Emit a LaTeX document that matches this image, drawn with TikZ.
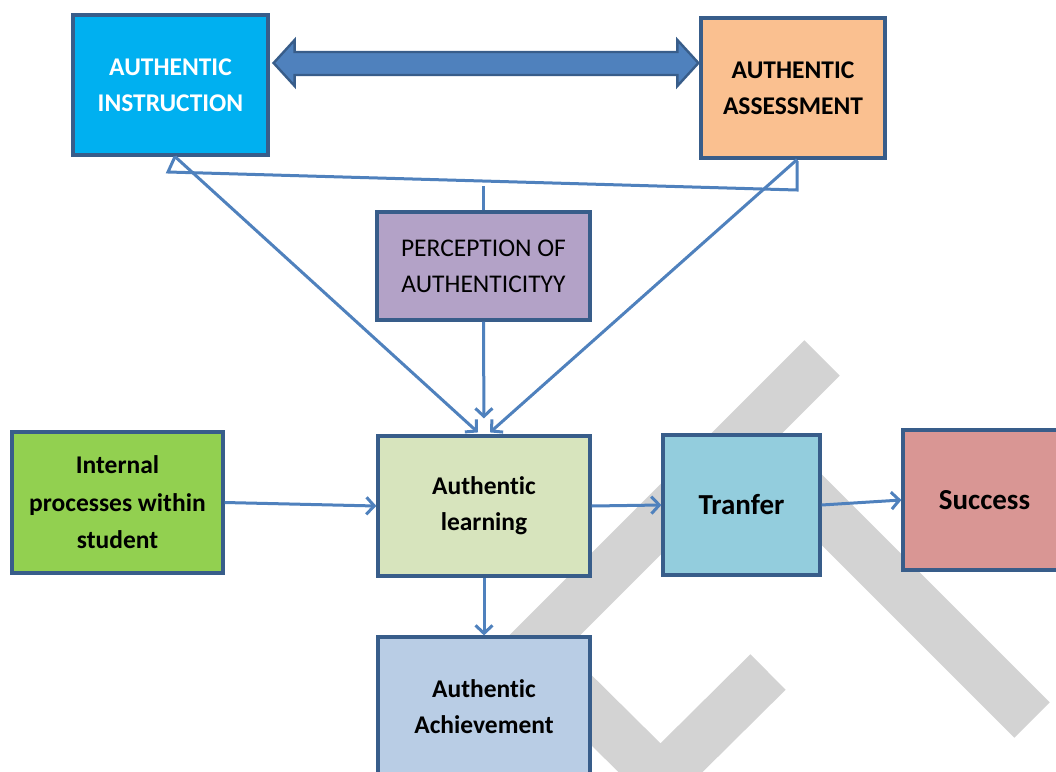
\documentclass[tikz,border=0pt]{standalone}
\usepackage{fontspec}
\setmainfont{Carlito}[Ligatures=NoCommon]
\usetikzlibrary{arrows.meta,calc}

\definecolor{edge}{HTML}{385D8A}
\definecolor{linkblue}{HTML}{4F81BD}
\definecolor{instr}{HTML}{00B0F0}
\definecolor{assess}{HTML}{FAC090}
\definecolor{percep}{HTML}{B3A2C7}
\definecolor{internal}{HTML}{92D050}
\definecolor{learn}{HTML}{D7E4BD}
\definecolor{transfer}{HTML}{93CDDD}
\definecolor{successc}{HTML}{D99694}
\definecolor{achieve}{HTML}{B9CDE5}
\definecolor{wmgray}{HTML}{D3D3D3}

\begin{document}
\begin{tikzpicture}[x=1pt,y=-1pt,
  box/.style={draw=edge, line width=3.2pt, inner sep=0pt, align=center,
    font=\bfseries\fontsize{25.5}{36}\selectfont, text=black},
  bigtext/.style={font=\bfseries\fontsize{29}{34}\selectfont},
  link/.style={draw=linkblue, line width=3pt,
    -{Straight Barb[length=8pt,width=17pt]}},
  plain/.style={draw=linkblue, line width=3pt, line join=miter},
  wm/.style={draw=wmgray, line width=50pt, line cap=butt, line join=miter}]

\clip (0,0) rectangle (1056,771);
\fill[white] (0,0) rectangle (1056,771);

% background watermark strokes
\draw[wm] (822,358) -- (470,710);
\draw[wm] (760,448) -- (1032,720);
\draw[wm] (565,684) -- (660.5,778.5) -- (768,672);

% boxes
\node[box, fill=instr, text=white, minimum width=195pt, minimum height=140pt]
  (ai) at (170.5,85) {AUTHENTIC\\INSTRUCTION};
\node[box, fill=assess, minimum width=184pt, minimum height=140pt]
  (aa) at (793,88) {AUTHENTIC\\ASSESSMENT};
\node[box, fill=percep, font=\mdseries\fontsize{25.5}{36}\selectfont,
  minimum width=213pt, minimum height=108pt]
  (pa) at (483.5,266) {PERCEPTION OF\\AUTHENTICITYY};
\node[box, fill=internal, font=\bfseries\fontsize{25.5}{37.5}\selectfont,
  minimum width=211pt, minimum height=141pt]
  (ip) at (117.5,502.5) {Internal\\processes within\\student};
\node[box, fill=learn, minimum width=212pt, minimum height=140pt]
  (al) at (484,506) {Authentic\\learning};
\node[box, bigtext, fill=transfer, minimum width=157pt, minimum height=140pt]
  (tr) at (741.5,505) {Tranfer};
\node[box, bigtext, fill=successc, minimum width=163pt, minimum height=140pt]
  (su) at (984.5,500) {Success};
\node[box, fill=achieve, minimum width=212pt, minimum height=140pt]
  (ac) at (484,707) {Authentic\\Achievement};

% double block arrow between the two top boxes
\coordinate (dl) at ($(ai.east)+(4,-22)$);
\coordinate (dr) at ($(aa.west)+(-1,-25)$);
\draw[draw=edge, fill=linkblue, line width=2.4pt, line join=miter]
  (dl) -- ++(21,-23) -- ++(0,12) -- ($(dr)+(-21,-11)$) -- ++(0,-12)
  -- (dr) -- ++(-21,23) -- ++(0,-11) -- ($(dl)+(21,12)$) -- ++(0,11) -- cycle;

% bracket joining the top boxes
\coordinate (ais) at ($(ai.south)+(4.5,0)$);
\coordinate (aas) at ($(aa.south)+(4,0)$);
\coordinate (bl) at (168,172);
\coordinate (br) at (797,190);
\coordinate (btop) at (797,161);
\draw[plain] (ais) -- (bl) -- (br) -- (btop);
\draw[plain] (pa.north) -- ++(0,-24);

% connectors
\draw[link] (ais) -- ($(al.north)+(-6,-2)$);
\draw[link] (aas) -- ($(al.north)+(6,-2)$);
\draw[link, shorten >=16pt] (pa.south) -- (al.north);
\draw[link] (ip.east) -- (al.west);
\draw[link] (al.east) -- (tr.west);
\draw[link] (tr.east) -- (su.west);
\draw[link] (al.south) -- (ac.north);
\end{tikzpicture}
\end{document}
